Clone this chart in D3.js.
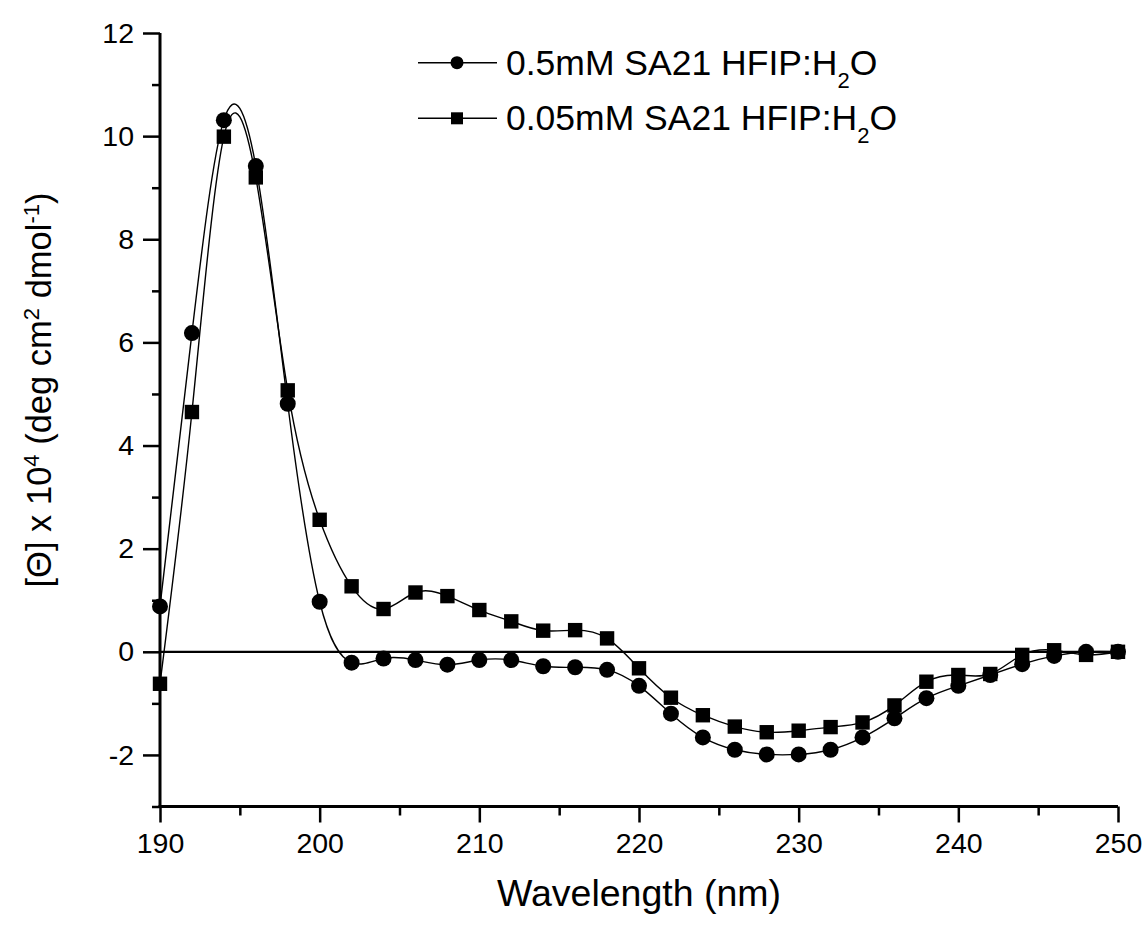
<!DOCTYPE html>
<html>
<head>
<meta charset="utf-8">
<script src="https://cdn.jsdelivr.net/npm/d3@7"></script>
<style>
  body { margin: 0; background: #fff; }
  svg { display: block; font-family: "Liberation Sans", Arial, sans-serif; }
</style>
</head>
<body>
<div id="chart"></div>
<script>
const wavelength = [190, 192, 194, 196, 198, 200, 202, 204, 206, 208, 210, 212, 214, 216, 218,
  220, 222, 224, 226, 228, 230, 232, 234, 236, 238, 240, 242, 244, 246, 248, 250];

// 0.5mM SA21 HFIP:H2O (circles)
const conc05 = [0.88, 6.18, 10.31, 9.42, 4.81, 0.97, -0.21, -0.13, -0.16, -0.25, -0.16, -0.16, -0.28, -0.30, -0.35,
  -0.66, -1.20, -1.66, -1.90, -1.99, -1.99, -1.90, -1.66, -1.29, -0.90, -0.66, -0.45, -0.24, -0.08, 0.00, 0.00];

// 0.05mM SA21 HFIP:H2O (squares)
const conc005 = [-0.62, 4.65, 9.99, 9.20, 5.07, 2.56, 1.27, 0.83, 1.15, 1.08, 0.81, 0.59, 0.41, 0.42, 0.26,
  -0.32, -0.89, -1.23, -1.45, -1.56, -1.53, -1.46, -1.37, -1.04, -0.58, -0.45, -0.43, -0.06, 0.03, -0.06, 0.00];

const xTicks = [190, 200, 210, 220, 230, 240, 250];
const xMinorTicks = [195, 205, 215, 225, 235, 245];
const yTicks = [-2, 0, 2, 4, 6, 8, 10, 12];
const yMinorTicks = [-3, -1, 1, 3, 5, 7, 9, 11];

const W = 1148, H = 925;
const plot = { left: 160, right: 1118, top: 33, bottom: 806.5 };

const svg = d3.select("#chart").append("svg")
    .attr("width", W)
    .attr("height", H);

const x = d3.scaleLinear().domain([190, 250]).range([plot.left, plot.right]);
const y = d3.scaleLinear().domain([-3, 12]).range([plot.bottom, plot.top]);

//zero line
svg.append("line")
    .attr("x1", x(190)).attr("x2", x(250))
    .attr("y1", y(0)).attr("y2", y(0))
    .attr("stroke", "#000")
    .attr("stroke-width", 2.2);

//x axis, major and minor ticks
const xAxis = svg.append("g")
    .attr("transform", `translate(0,${plot.bottom})`)
    .call(d3.axisBottom(x).tickValues(xTicks).tickSize(16).tickPadding(10).tickFormat(d => String(d)));
svg.append("g")
    .attr("transform", `translate(0,${plot.bottom})`)
    .call(d3.axisBottom(x).tickValues(xMinorTicks).tickSize(9).tickFormat(""))
    .call(g => g.select(".domain").remove());

//y axis, major and minor ticks
const yAxis = svg.append("g")
    .attr("transform", `translate(${plot.left},0)`)
    .call(d3.axisLeft(y).tickValues(yTicks).tickSize(17).tickPadding(9).tickFormat(d => String(d)));
svg.append("g")
    .attr("transform", `translate(${plot.left},0)`)
    .call(d3.axisLeft(y).tickValues(yMinorTicks).tickSize(8).tickFormat(""))
    .call(g => g.select(".domain").remove());

xAxis.select(".domain").attr("d", `M${plot.left - 1.5},0H${plot.right}`);
yAxis.select(".domain").attr("d", `M0,${plot.top}V${plot.bottom + 1.5}`);
svg.selectAll(".domain").attr("stroke-width", 3);
svg.selectAll(".tick line").attr("stroke-width", 2.5);
svg.selectAll(".tick text")
    .attr("font-family", "Liberation Sans, Arial, sans-serif")
    .attr("font-size", 28.5)
    .attr("fill", "#000");

//axis titles
svg.append("text")
    .attr("x", 639)
    .attr("y", 906)
    .attr("text-anchor", "middle")
    .attr("font-size", 37.5)
    .text("Wavelength (nm)");

const yTitle = svg.append("text")
    .attr("transform", `translate(51,390) rotate(-90)`)
    .attr("text-anchor", "middle")
    .attr("font-size", 34.5);
yTitle.append("tspan").text("[Θ] x 10");
yTitle.append("tspan").attr("dy", -12).attr("font-size", 22).text("4");
yTitle.append("tspan").attr("dy", 12).text(" (deg cm");
yTitle.append("tspan").attr("dy", -12).attr("font-size", 22).text("2");
yTitle.append("tspan").attr("dy", 12).text(" dmol");
yTitle.append("tspan").attr("dy", -12).attr("font-size", 22).text("-1");
yTitle.append("tspan").attr("dy", 12).text(")");

//series
const series = [
  { name: "0.5mM SA21 HFIP:H", values: conc05, shape: "circle" },
  { name: "0.05mM SA21 HFIP:H", values: conc005, shape: "square" }
];

const line = d3.line()
    .x(d => x(d[0]))
    .y(d => y(d[1]))
    .curve(d3.curveNatural);

series.forEach(s => {
  const pts = wavelength.map((w, i) => [w, s.values[i]]);
  svg.append("path")
      .datum(pts)
      .attr("fill", "none")
      .attr("stroke", "#000")
      .attr("stroke-width", 1.4)
      .attr("d", line);

  if (s.shape === "circle") {
    svg.append("g").selectAll("circle")
      .data(pts)
      .join("circle")
        .attr("cx", d => x(d[0]))
        .attr("cy", d => y(d[1]))
        .attr("r", 8)
        .attr("fill", "#000");
  } else {
    svg.append("g").selectAll("rect")
      .data(pts)
      .join("rect")
        .attr("x", d => x(d[0]) - 7.2)
        .attr("y", d => y(d[1]) - 7.2)
        .attr("width", 14.4)
        .attr("height", 14.4)
        .attr("fill", "#000");
  }
});

//legend
const legend = svg.append("g")
    .selectAll("g")
    .data(series)
    .join("g")
      .attr("transform", (d, i) => `translate(0,${62.7 + i * 55.6})`);

legend.append("line")
    .attr("x1", 418).attr("x2", 497)
    .attr("stroke", "#000")
    .attr("stroke-width", 1.4);

legend.filter(d => d.shape === "circle").append("circle")
    .attr("cx", 457).attr("r", 6.5).attr("fill", "#000");
legend.filter(d => d.shape === "square").append("rect")
    .attr("x", 451).attr("y", -6).attr("width", 12).attr("height", 12).attr("fill", "#000");

const legendText = legend.append("text")
    .attr("x", 506)
    .attr("y", 12)
    .attr("font-size", 35.5);
legendText.append("tspan").text(d => d.name);
legendText.append("tspan").attr("dy", 13).attr("font-size", 22).text("2");
legendText.append("tspan").attr("dy", -13).text("O");
</script>
</body>
</html>
